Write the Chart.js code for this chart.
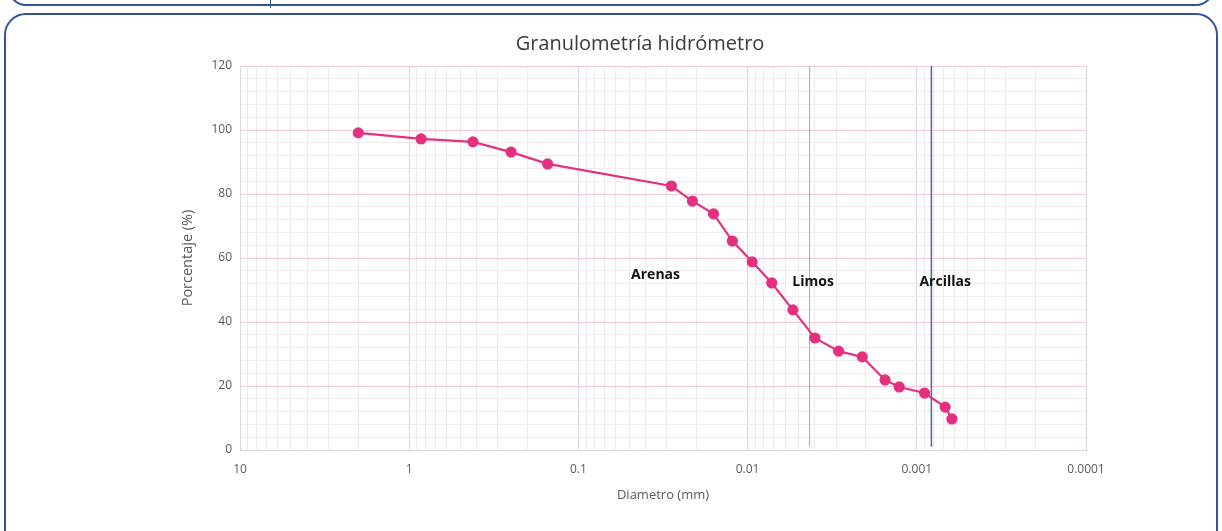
<!DOCTYPE html>
<html>
<head>
<meta charset="utf-8">
<script src="https://cdn.jsdelivr.net/npm/chart.js@4/dist/chart.umd.min.js"></script>
<style>
  html, body { margin: 0; padding: 0; background: #fff; }
  body { width: 1222px; height: 531px; overflow: hidden; position: relative; font-family: "Open Sans", sans-serif; }
  .caja-arriba { position: absolute; left: 8px; right: 8px; top: -40px; height: 42px; border: 2.5px solid #2f5597; border-radius: 18px; }
  .raya { position: absolute; left: 270px; top: 0; height: 8px; border-left: 1px solid #2f5597; }
  .caja { position: absolute; left: 4px; right: 4px; top: 13px; height: 560px; border: 2.5px solid #2f5597; border-radius: 22px; }
  #wrap { position: absolute; left: 0; top: 0; width: 1222px; height: 531px; }
</style>
</head>
<body>
<div class="caja-arriba"></div>
<div class="raya"></div>
<div class="caja"></div>
<div id="wrap"><canvas id="grafico"></canvas></div>
<script>
// datos
const diametro = [2.0, 0.85, 0.42, 0.25, 0.152, 0.0282, 0.0212, 0.0159, 0.0123, 0.0094,
  0.0072, 0.0054, 0.0040, 0.0029, 0.0021, 0.00154, 0.00127, 0.00090, 0.00068, 0.00062];
const porcentaje = [99.1, 97.2, 96.3, 93.1, 89.4, 82.5, 77.8, 73.8, 65.3, 58.8,
  52.2, 43.8, 35.0, 30.9, 29.1, 21.9, 19.7, 17.8, 13.4, 9.7];

// lineas limite (limos / arcillas)
const limites = [0.0043, 0.00082];
const limitesColor = ["#8eaadb", "#4a64b4"];

// etiquetas de zonas
const zonas = ["Arenas", "Limos", "Arcillas"];
const zonasX = [0.035, 0.0041, 0.00068];
const zonasY = [54.7, 52.5, 52.5];

// ejes
const decadas = [10, 1, 0.1, 0.01, 0.001, 0.0001];
const xTickLabels = ["10", "1", "0.1", "0.01", "0.001", "0.0001"];
const multiplos = [1, 2, 3, 4, 5, 6, 7, 8, 9];

const puntos = diametro.map((d, i) => ({ x: d, y: porcentaje[i] }));

const datasets = [{
  data: puntos,
  borderColor: "#e4317f",
  backgroundColor: "#e4317f",
  borderWidth: 2.2,
  pointRadius: 4.5,
  showLine: true,
  order: 0
}];
limites.forEach((v, i) => {
  datasets.push({
    data: [{ x: v, y: 1 }, { x: v, y: 120 }],
    borderColor: limitesColor[i],
    borderWidth: i === 0 ? 1 : 1.5,
    pointRadius: 0,
    showLine: true,
    order: 1
  });
});

const zonasPlugin = {
  id: "zonas",
  afterDatasetsDraw(chart) {
    const { ctx, scales } = chart;
    ctx.save();
    ctx.font = "bold 14px 'Open Sans'";
    ctx.fillStyle = "#111";
    ctx.textAlign = "center";
    ctx.textBaseline = "middle";
    zonas.forEach((z, i) => {
      ctx.fillText(z, scales.x.getPixelForValue(zonasX[i]), scales.y.getPixelForValue(zonasY[i]));
    });
    ctx.restore();
  }
};

new Chart(document.getElementById("grafico"), {
  type: "scatter",
  data: { datasets: datasets },
  plugins: [zonasPlugin],
  options: {
    responsive: true,
    maintainAspectRatio: false,
    animation: false,
    layout: { padding: { left: 194, right: 136, top: 0, bottom: 0 } },
    plugins: {
      legend: { display: false },
      tooltip: { enabled: false },
      title: {
        display: true,
        text: "Granulometría hidrómetro",
        color: "#3a3a3a",
        font: { family: "Open Sans", size: 20, weight: "normal", lineHeight: 1.2 },
        padding: { top: 32, bottom: 10 }
      }
    },
    scales: {
      x: {
        type: "logarithmic",
        reverse: true,
        min: 0.0001,
        max: 10,
        afterBuildTicks(scale) {
          const t = [];
          decadas.forEach((d) => {
            multiplos.forEach((m) => {
              if (d * m <= 10.0001) t.push({ value: d * m, major: m === 1 });
            });
          });
          t.sort((a, b) => a.value - b.value);
          scale.ticks = t;
        },
        afterFit(scale) { scale.height = 81; },
        ticks: {
          autoSkip: false,
          maxRotation: 0,
          padding: 12,
          color: "#595959",
          font: { family: "Open Sans", size: 12 },
          callback(value) {
            const i = decadas.findIndex((d) => Math.abs(d - value) / d < 1e-6);
            return i >= 0 ? xTickLabels[i] : "";
          }
        },
        grid: {
          drawTicks: false,
          color(ctx) {
            return ctx.tick && ctx.tick.major ? "#d6d6e2" : "#ece9f0";
          }
        },
        border: { color: "#d9d9d9" },
        title: {
          display: true,
          text: "Diametro (mm)",
          color: "#595959",
          font: { family: "Open Sans", size: 13 },
          padding: { top: 0, bottom: 28 }
        }
      },
      y: {
        min: 0,
        max: 120,
        afterFit(scale) { scale.width = 46; },
        ticks: {
          stepSize: 4,
          autoSkip: false,
          padding: 8,
          color: "#595959",
          font: { family: "Open Sans", size: 12 },
          callback(value) { return value % 20 === 0 ? value : ""; }
        },
        grid: {
          drawTicks: false,
          color(ctx) {
            return ctx.tick && ctx.tick.value % 20 === 0 ? "#f5c9d6" : "#f0ebef";
          }
        },
        border: { color: "#d9d9d9" },
        title: {
          display: true,
          text: "Porcentaje (%)",
          color: "#595959",
          font: { family: "Open Sans", size: 14.5 },
          padding: { top: -14.7, bottom: 0 }
        }
      }
    }
  }
});
</script>
</body>
</html>
